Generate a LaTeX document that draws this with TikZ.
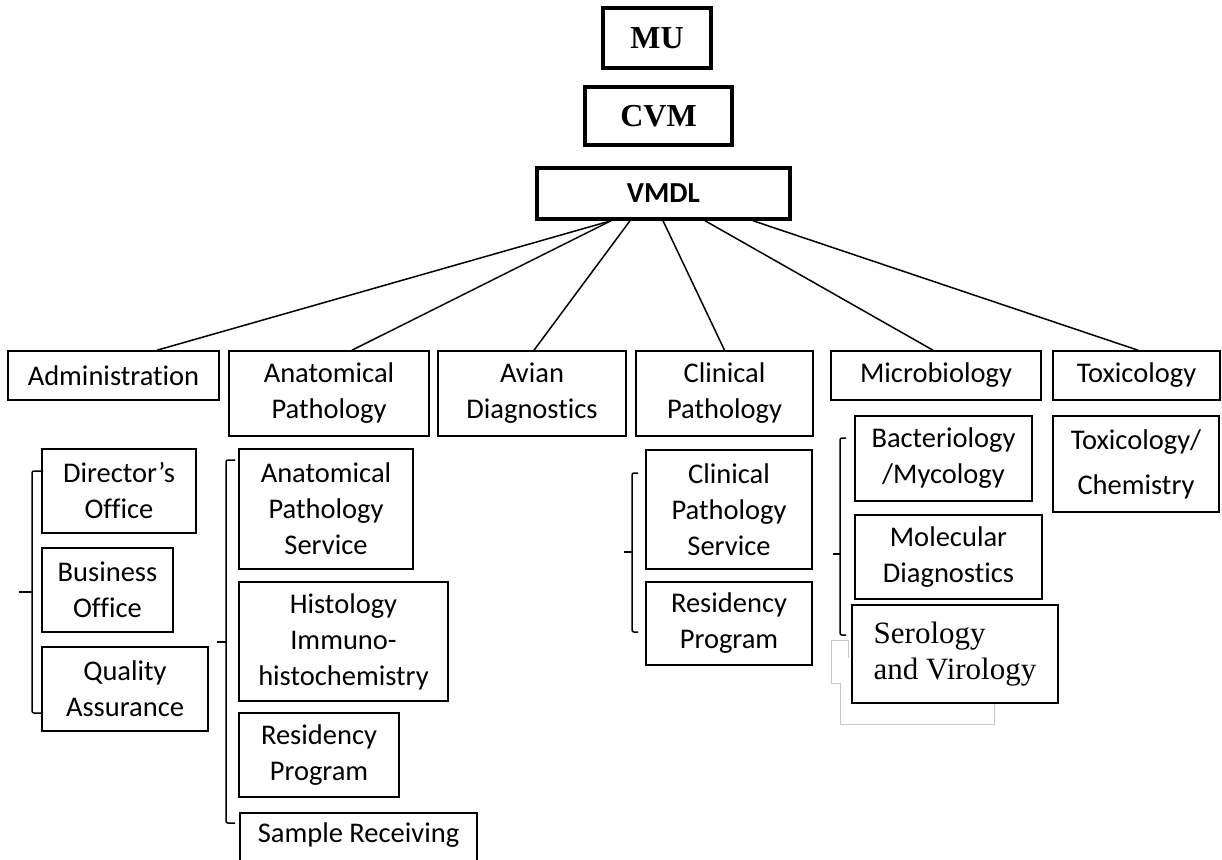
\documentclass[tikz,border=0pt]{standalone}
\usepackage{fontspec}
\setmainfont{Carlito}[Ligatures = NoCommon]
\newfontfamily\timesfont{Liberation Serif}
\usetikzlibrary{positioning}

\begin{document}
\begin{tikzpicture}[x = 1pt, y = -1pt,
                    unit/.style = {draw, line width = 1.6pt, inner sep = 0pt, align = center,
                                   font = \fontsize{28.5}{36}\selectfont},
                    top_unit/.style = {draw, line width = 3.5pt, inner sep = 0pt, align = center},
                    link/.style = {line width = 1.5pt},
                    bracket/.style = {line width = 1.5pt, rounded corners = 2pt},
                    ghost/.style = {color = black!22, line width = 0.9pt}]
    \useasboundingbox (0,0) rectangle (1222,859);
    %top of the chart
    \node[top_unit, minimum width = 108pt, minimum height = 60pt,
          font = \timesfont\bfseries\fontsize{32}{36}\selectfont] (mu) at (657,38) {MU};
    \node[top_unit, minimum width = 147pt, minimum height = 58pt,
          font = \timesfont\bfseries\fontsize{32}{36}\selectfont] (cvm) at (658.5,116) {CVM};
    \node[top_unit, minimum width = 253pt, minimum height = 51pt,
          font = \bfseries\fontsize{29}{36}\selectfont] (vmdl) at (663.5,193.5) {VMDL};
    %sections
    \node[unit, minimum width = 211pt, minimum height = 49pt] (admin) at (113.5,375.5) {Administration};
    \node[unit, minimum width = 200pt, minimum height = 85pt] (anat) at (329,393.5) {Anatomical\\Pathology};
    \node[unit, minimum width = 188pt, minimum height = 85pt] (avian) at (532,393.5) {Avian\\Diagnostics};
    \node[unit, minimum width = 177pt, minimum height = 85pt] (clin) at (724.5,393.5) {Clinical\\Pathology};
    \node[unit, minimum width = 210pt, minimum height = 49pt] (micro) at (936,375.5) {Microbiology};
    \node[unit, minimum width = 167pt, minimum height = 49pt] (tox) at (1136.5,375.5) {Toxicology};
    \foreach \child/\xa/\xb in {admin/-52.5/43.5, anat/-52.5/23, avian/-33.5/2,
                                clin/-0.5/0, micro/41.5/-3, tox/89.5/1.5}
        \draw[link] ([xshift = \xa]vmdl.south) -- ([xshift = \xb]\child.north);
    %administration
    \node[unit, minimum width = 154pt, minimum height = 84pt] (director) at (119,491) {Director’s\\Office};
    \node[unit, minimum width = 131pt, minimum height = 84pt] (business) at (107.5,590) {Business\\Office};
    \node[unit, minimum width = 166pt, minimum height = 84pt] (quality) at (125,689) {Quality\\Assurance};
    %anatomical pathology
    \node[unit, minimum width = 174pt, minimum height = 120pt] (apservice) at (326,509) {Anatomical\\Pathology\\Service};
    \node[unit, minimum width = 209pt, minimum height = 119pt] (histo) at (343.5,641.5) {Histology\\Immuno-\\histochemistry};
    \node[unit, minimum width = 160pt, minimum height = 84pt] (apresidency) at (319,755) {Residency\\Program};
    \node[unit, anchor = north west, inner xsep = 18pt, inner ysep = 10pt, text depth = 30pt]
          (receiving) at (239,812) {Sample Receiving};
    %clinical pathology
    \node[unit, minimum width = 166pt, minimum height = 119pt] (cpservice) at (729,509.5) {Clinical\\Pathology\\Service};
    \node[unit, minimum width = 166pt, minimum height = 83pt] (cpresidency) at (729,623.5) {Residency\\Program};
    %microbiology
    \node[unit, minimum width = 177pt, minimum height = 85pt] (bacterio) at (943.5,458.5) {Bacteriology\\/Mycology};
    \node[unit, minimum width = 187pt, minimum height = 84pt] (molecular) at (948.5,557) {Molecular\\Diagnostics};
    \draw[ghost] (848,658) -- (848,640) -- (831,640) -- (831,683) -- (840,683)
                 -- (840,724) -- (994,724) -- (994,700);
    \node[draw, fill = white, line width = 2.8pt, inner sep = 0pt, align = left,
          minimum width = 206pt, minimum height = 98pt,
          font = \timesfont\fontsize{31}{36}\selectfont] (serology) at (955,654) {Serology\\and Virology};
    %toxicology
    \node[unit, minimum width = 166pt, minimum height = 96pt] (toxchem) at (1136,464) {Toxicology/\\[9pt]Chemistry};
    %brackets
    \foreach \bx/\btop/\bbot/\bmid/\tick/\mtick in {32/471/713/592/11/13, 226/460/823/642/9/9,
                                                    632/473/632/552/6/8, 840/438/635/554/6/7}
    {
        \draw[bracket] (\bx+\tick,\btop) -- (\bx,\btop) -- (\bx,\bbot) -- (\bx+\tick,\bbot);
        \draw[bracket] (\bx,\bmid) -- (\bx-\mtick,\bmid);
    }
\end{tikzpicture}
\end{document}
